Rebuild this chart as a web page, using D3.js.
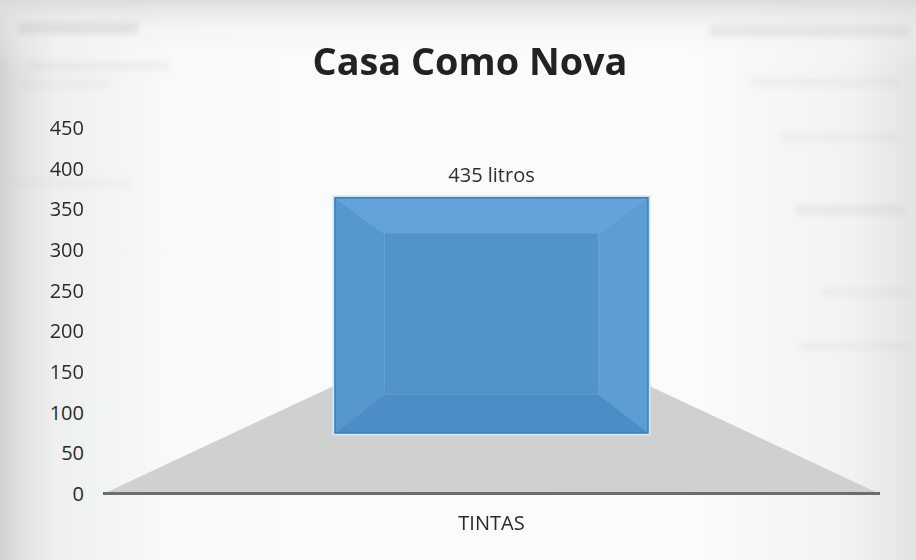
<!DOCTYPE html>
<html>
<head>
<meta charset="utf-8">
<script src="https://cdn.jsdelivr.net/npm/d3@7"></script>
<style>
  html, body { margin: 0; padding: 0; background: #f8f9f9; }
  svg { display: block; }
  text { font-family: "Open Sans", "Noto Sans", sans-serif; }
</style>
</head>
<body>
<div id="chart"></div>
<script>
// ---- data ----
const title = "Casa Como Nova";
const categories = ["TINTAS"];
const values = [435];
const valueLabels = ["435 litros"];
const yTicks = [0, 50, 100, 150, 200, 250, 300, 350, 400, 450];

// ---- layout ----
const W = 916, H = 560;
const svg = d3.select("#chart").append("svg").attr("width", W).attr("height", H);
const defs = svg.append("defs");

// paper background: grey scanner edges fading into white
const bg = defs.append("linearGradient").attr("id", "paper").attr("x1", 0).attr("x2", 1);
[[0, "#cfd2d2"], [0.02, "#dfe1e1"], [0.06, "#eef0f0"], [0.2, "#f9fafa"],
 [0.75, "#fbfbfb"], [0.93, "#f1f2f2"], [1, "#e2e4e4"]]
  .forEach(([o, c]) => bg.append("stop").attr("offset", o).attr("stop-color", c));
svg.append("rect").attr("width", W).attr("height", H).attr("fill", "url(#paper)");

const vgrad = defs.append("linearGradient").attr("id", "paperTop").attr("x1", 0).attr("x2", 0).attr("y1", 0).attr("y2", 1);
[[0, "#d9dbdb", 0.9], [0.05, "#eceeee", 0.4], [0.12, "#ffffff", 0]]
  .forEach(([o, c, a]) => vgrad.append("stop").attr("offset", o).attr("stop-color", c).attr("stop-opacity", a));
svg.append("rect").attr("width", W).attr("height", H).attr("fill", "url(#paperTop)");

// faint show-through from the reverse side of the sheet
defs.append("filter").attr("id", "soft").append("feGaussianBlur").attr("stdDeviation", 2.6);
const ghost = svg.append("g").attr("filter", "url(#soft)").attr("fill", "#a4a7a7");
[[18, 22, 120, 12, 0.2], [30, 62, 140, 8, 0.1], [20, 80, 90, 8, 0.08],
 [710, 25, 200, 12, 0.16], [750, 78, 150, 9, 0.09], [780, 133, 120, 9, 0.08], [795, 205, 110, 10, 0.13],
 [820, 288, 90, 9, 0.08], [800, 342, 110, 9, 0.08], [10, 178, 120, 10, 0.06]]
  .forEach(([x, y, w, h, a]) => ghost.append("rect").attr("x", x).attr("y", y).attr("width", w).attr("height", h).attr("opacity", a));

// ---- scales ----
const xRange = [103, 880];
const y = d3.scaleLinear().domain([0, 450]).range([494, 128]);
const x = d3.scaleBand().domain(categories).range(xRange).padding(0.245);
// depth: 0 = front edge of the floor, 1 = back edge; mapped to a perspective factor
const depth = d3.scaleLinear().domain([0, 1]).range([1, 0.406]);
const vp = { x: (xRange[0] + xRange[1]) / 2, y: 312 };
const proj = (X, Y, d) => {
  const s = depth(d);
  return [vp.x + s * (X - vp.x), vp.y + s * (Y - vp.y)];
};
const barDepth = [0.565, 0.92];

// ---- floor ----
const floorPts = [proj(xRange[0], y(0), 0), proj(xRange[1], y(0), 0),
                  proj(xRange[1], y(0), 1), proj(xRange[0], y(0), 1)];
svg.append("polygon").attr("points", floorPts.map(p => p.join(",")).join(" "))
  .attr("fill", "#cfd1d0");
svg.append("line")
  .attr("x1", xRange[0]).attr("x2", xRange[1]).attr("y1", y(0) - 0.5).attr("y2", y(0) - 0.5)
  .attr("stroke", "#6c6e6e").attr("stroke-width", 3);

// ---- bar (translucent box seen from the front) ----
const poly = pts => pts.map(p => p.join(",")).join(" ");
categories.forEach((c, i) => {
  const x0 = x(c), x1 = x(c) + x.bandwidth();
  const v0 = y(0), v1 = y(values[i]);
  const F = [proj(x0, v1, barDepth[0]), proj(x1, v1, barDepth[0]), proj(x1, v0, barDepth[0]), proj(x0, v0, barDepth[0])];
  const B = [proj(x0, v1, barDepth[1]), proj(x1, v1, barDepth[1]), proj(x1, v0, barDepth[1]), proj(x0, v0, barDepth[1])];
  const g = svg.append("g");
  // light rim
  g.append("polygon").attr("points", poly(F)).attr("fill", "none")
    .attr("stroke", "#d3e6f3").attr("stroke-width", 5);
  // back face
  g.append("polygon").attr("points", poly(B)).attr("fill", "#5193cb");
  // top, sides, bottom faces
  g.append("polygon").attr("points", poly([F[0], F[1], B[1], B[0]])).attr("fill", "#63a3d9");
  g.append("polygon").attr("points", poly([F[0], B[0], B[3], F[3]])).attr("fill", "#5597cf");
  g.append("polygon").attr("points", poly([F[1], B[1], B[2], F[2]])).attr("fill", "#5b9dd4");
  g.append("polygon").attr("points", poly([F[3], B[3], B[2], F[2]])).attr("fill", "#4a8dc7");
  // edges
  const edge = g.append("g").attr("stroke", "#3f82ba").attr("stroke-opacity", 0.3).attr("stroke-width", 1).attr("fill", "none");
  edge.append("polygon").attr("points", poly(B));
  [0, 1, 2, 3].forEach(k => edge.append("line")
    .attr("x1", F[k][0]).attr("y1", F[k][1]).attr("x2", B[k][0]).attr("y2", B[k][1]));
  g.append("polygon").attr("points", poly(F)).attr("fill", "none")
    .attr("stroke", "#3a7fb9").attr("stroke-width", 1.5);

  // value label
  svg.append("text")
    .attr("x", (F[0][0] + F[1][0]) / 2).attr("y", F[0][1] - 16)
    .attr("text-anchor", "middle").attr("font-size", 20).attr("fill", "#2e2e2e")
    .text(valueLabels[i]);

  // category label
  svg.append("text")
    .attr("x", (F[0][0] + F[1][0]) / 2).attr("y", 530)
    .attr("text-anchor", "middle").attr("font-size", 20).attr("fill", "#2a2a2a")
    .text(c);
});

// ---- value axis ----
const axis = svg.append("g").attr("transform", "translate(84,0)")
  .call(d3.axisLeft(y).tickValues(yTicks).tickSize(0).tickPadding(0));
axis.select(".domain").remove();
axis.selectAll("text")
  .attr("font-size", 20).attr("fill", "#2b2b2b")
  .style("font-family", "'Open Sans', sans-serif");

// ---- title ----
const t = svg.append("text")
  .attr("x", 470).attr("y", 75).attr("text-anchor", "middle")
  .attr("font-weight", "bold").attr("font-size", 40).attr("fill", "#222")
  .text(title);
const tw = t.node().getComputedTextLength();
t.attr("font-size", 40 * 315 / tw);
</script>
</body>
</html>
